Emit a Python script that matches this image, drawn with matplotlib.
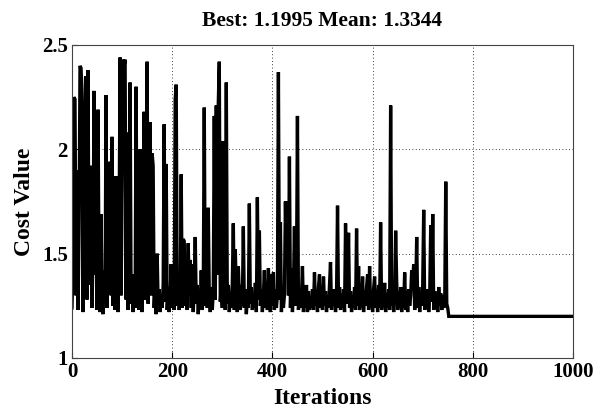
import numpy as np
import matplotlib
matplotlib.use("Agg")
import matplotlib.pyplot as plt

# cost per iteration, every 2 iterations (0..750)
cost_noisy = [
    1.24, 1.45, 2.25, 2.24, 1.30, 1.90, 1.23, 1.60, 2.40, 2.39, 2.28, 1.22, 1.85, 2.15, 2.35,   # 0
    1.28, 2.38, 1.35, 1.92, 1.91, 1.24, 1.50, 2.28, 1.40, 1.93, 1.23, 2.19, 1.38, 1.22, 1.69,   # 30
    1.26, 1.21, 1.42, 1.28, 2.26, 1.24, 1.55, 1.94, 1.93, 1.30, 2.06, 1.25, 1.87, 1.23, 1.87,   # 60
    1.35, 1.22, 1.60, 2.44, 1.30, 1.80, 2.43, 2.40, 2.43, 1.28, 2.08, 1.23, 1.45, 2.32, 1.26,   # 90
    1.40, 1.22, 1.38, 1.24, 2.30, 1.30, 1.42, 1.23, 2.00, 1.35, 1.22, 1.55, 2.18, 1.28, 1.40,   # 120
    2.42, 1.26, 1.45, 2.13, 1.30, 1.98, 1.92, 1.24, 1.36, 1.21, 1.50, 1.25, 1.33, 1.22, 1.30,   # 150
    1.24, 1.35, 2.12, 1.27, 1.93, 1.23, 1.34, 1.22, 1.30, 1.45, 1.24, 1.32, 1.23, 2.24, 2.31,   # 180
    1.25, 1.36, 1.23, 1.30, 1.88, 1.24, 1.57, 1.56, 1.25, 1.33, 1.23, 1.55, 1.30, 1.47, 1.24,   # 210
    1.45, 1.22, 1.34, 1.58, 1.26, 1.35, 1.21, 1.30, 1.24, 1.42, 1.23, 1.31, 2.20, 1.25, 1.56,   # 240
    1.24, 1.72, 1.30, 1.22, 1.34, 1.23, 1.32, 2.16, 1.28, 2.21, 1.40, 2.22, 2.42, 1.27, 1.35,   # 270
    1.24, 2.04, 1.30, 1.23, 2.32, 1.26, 1.35, 1.22, 1.31, 1.24, 1.36, 1.645, 1.23, 1.52, 1.28,  # 300
    1.22, 1.44, 1.30, 1.23, 1.35, 1.25, 1.63, 1.24, 1.33, 1.21, 1.29, 1.24, 1.74, 1.26, 1.34,   # 330
    1.23, 1.31, 1.24, 1.36, 1.22, 1.77, 1.28, 1.61, 1.25, 1.33, 1.22, 1.30, 1.42, 1.24, 1.35,   # 360
    1.23, 1.43, 1.27, 1.22, 1.40, 1.25, 1.41, 1.23, 1.33, 1.24, 1.30, 2.37, 1.28, 1.65, 1.22,   # 390
    1.34, 1.24, 1.30, 1.75, 1.45, 1.75, 1.30, 1.965, 1.24, 1.43, 1.22, 1.32, 1.63, 1.25, 1.36,  # 420
    2.16, 1.23, 1.33, 1.24, 1.30, 1.44, 1.22, 1.31, 1.24, 1.35, 1.22, 1.32, 1.23, 1.29, 1.24,   # 450
    1.33, 1.23, 1.41, 1.25, 1.30, 1.22, 1.34, 1.40, 1.24, 1.31, 1.23, 1.39, 1.25, 1.32, 1.22,   # 480
    1.30, 1.24, 1.35, 1.46, 1.23, 1.31, 1.25, 1.33, 1.22, 1.30, 1.73, 1.24, 1.34, 1.23, 1.31,   # 510
    1.24, 1.33, 1.22, 1.645, 1.26, 1.35, 1.60, 1.24, 1.32, 1.22, 1.30, 1.24, 1.34, 1.23, 1.62,  # 540
    1.25, 1.44, 1.23, 1.32, 1.24, 1.39, 1.22, 1.31, 1.25, 1.34, 1.40, 1.23, 1.44, 1.24, 1.30,   # 570
    1.22, 1.33, 1.39, 1.24, 1.31, 1.22, 1.35, 1.24, 1.65, 1.23, 1.30, 1.25, 1.36, 1.22, 1.31,   # 600
    1.24, 1.33, 1.23, 2.21, 1.25, 1.32, 1.22, 1.30, 1.61, 1.37, 1.23, 1.31, 1.24, 1.34, 1.22,   # 630
    1.30, 1.24, 1.41, 1.23, 1.32, 1.22, 1.33, 1.25, 1.30, 1.42, 1.36, 1.45, 1.23, 1.31, 1.58,   # 660
    1.24, 1.34, 1.22, 1.31, 1.25, 1.35, 1.71, 1.23, 1.30, 1.24, 1.33, 1.22, 1.30, 1.635, 1.27,  # 690
    1.69, 1.23, 1.32, 1.24, 1.30, 1.22, 1.34, 1.25, 1.31, 1.23, 1.30, 1.24, 1.28, 1.845, 1.26,  # 720
    1.24,                                                                                       # 750
]
iters_flat = [752, 1000]
cost_flat = [1.1995, 1.1995]

x_ticks = [0, 200, 400, 600, 800, 1000]
y_ticks = [1, 1.5, 2, 2.5]
y_ticklabels = ["1", "1.5", "2", "2.5"]
title = "Best: 1.1995 Mean: 1.3344"

plt.rcParams["font.family"] = ["Liberation Serif", "DejaVu Serif"]
plt.rcParams["font.weight"] = "bold"

iters_noisy = np.arange(0, 2 * len(cost_noisy), 2)
iters = np.concatenate([iters_noisy, iters_flat])
cost = np.concatenate([cost_noisy, cost_flat])

fig = plt.figure(figsize=(6.07, 4.12), dpi=100)
ax = fig.add_axes([0.1186, 0.1311, 0.8254, 0.7597])
ax.plot(iters, cost, color="black", lw=2.4, solid_joinstyle="miter")

ax.set_xlim(0, 1000)
ax.set_ylim(1, 2.5)
ax.set_xticks(x_ticks)
ax.set_yticks(y_ticks)
ax.set_yticklabels(y_ticklabels)
ax.tick_params(direction="in", labelsize=15, length=4, pad=3)
ax.grid(True, linestyle=(0, (1, 3)), color="black", lw=0.6)
for s in ax.spines.values():
    s.set_color("#444444")
    s.set_linewidth(0.8)

ax.set_xlabel("Iterations", fontsize=17, fontweight="bold", labelpad=4)
ax.set_ylabel("Cost Value", fontsize=17, fontweight="bold", labelpad=5)
ax.set_title(title, fontsize=15.5, fontweight="bold", pad=14)

fig.savefig("out.png", dpi=100)
